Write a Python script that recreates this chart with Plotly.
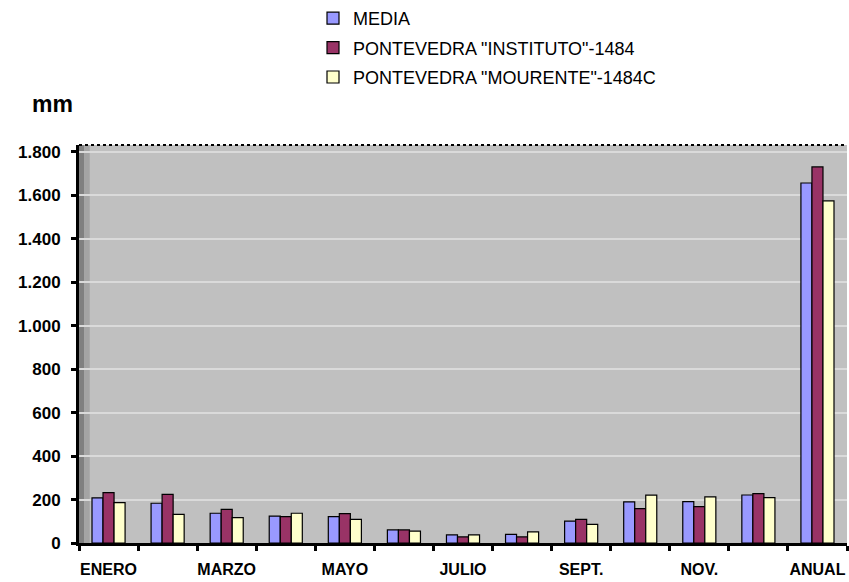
import plotly.graph_objects as go

categories = ["ENERO", "FEBRERO", "MARZO", "ABRIL", "MAYO", "JUNIO", "JULIO",
              "AGOSTO", "SEPT.", "OCT.", "NOV.", "DIC.", "ANUAL"]
shown_labels = ["ENERO", "MARZO", "MAYO", "JULIO", "SEPT.", "NOV.", "ANUAL"]

media = [208, 183, 137, 124, 121, 60, 37, 40, 101, 189, 190, 221, 1657]
instituto = [232, 224, 155, 121, 135, 60, 28, 28, 109, 158, 167, 227, 1731]
mourente = [186, 132, 117, 137, 109, 55, 37, 51, 86, 220, 212, 209, 1575]

series_names = ["MEDIA", 'PONTEVEDRA "INSTITUTO"-1484', 'PONTEVEDRA "MOURENTE"-1484C']
series_colors = ["#9999ff", "#993366", "#ffffcc"]
y_ticks = [0, 200, 400, 600, 800, 1000, 1200, 1400, 1600, 1800]

FONT = "Liberation Sans, Arial, sans-serif"

fig = go.Figure()
for name, vals, col in zip(series_names, [media, instituto, mourente], series_colors):
    fig.add_trace(go.Bar(
        x=categories, y=vals, name=name, legendgroup=name,
        marker=dict(color=col, line=dict(color="black", width=1.2)),
    ))

# boundary tick marks overlay axis
fig.add_trace(go.Scatter(x=[], y=[], xaxis="x2", showlegend=False, hoverinfo="skip"))

fig.update_layout(
    width=849, height=582,
    margin=dict(l=79, r=2, t=145, b=39, autoexpand=False),
    paper_bgcolor="white",
    plot_bgcolor="#c0c0c0",
    separators=",.",
    barmode="group",
    bargap=0.44,
    bargroupgap=0,
    font=dict(family=FONT, color="black"),
    legend=dict(
        xref="container", yref="container",
        x=313 / 849, y=1.0, xanchor="left", yanchor="top",
        font=dict(family=FONT, size=18, color="black"),
        bgcolor="rgba(0,0,0,0)", tracegroupgap=3,
        traceorder="grouped",
    ),
    xaxis=dict(
        type="category", categoryorder="array", categoryarray=categories,
        range=[-0.5, 12.5],
        tickvals=shown_labels, ticktext=shown_labels,
        ticks="", showgrid=False, zeroline=False,
        showline=False, tickangle=0,
        tickfont=dict(family=FONT, size=16, color="black", weight="bold"),
        ticklabelstandoff=15,
    ),
    xaxis2=dict(
        overlaying="x", anchor="y", side="bottom",
        range=[-0.5, 12.5],
        tickvals=[i - 0.5 for i in range(len(categories) + 1)],
        showticklabels=False, ticks="outside", ticklen=5, tickwidth=3,
        tickcolor="black", showline=True, linecolor="black", linewidth=3,
        showgrid=False, zeroline=False,
    ),
    yaxis=dict(
        range=[0, 1832], tickvals=y_ticks, tickformat=",d",
        ticks="outside", ticklen=5, tickwidth=3, tickcolor="black",
        showline=True, linecolor="black", linewidth=3,
        showgrid=True, gridcolor="#dadada", gridwidth=2,
        zeroline=False,
        tickfont=dict(family=FONT, size=17, color="black", weight="bold"),
        ticklabelstandoff=7,
    ),
    shapes=[
        dict(type="rect", xref="paper", yref="paper", x0=0, x1=0.007, y0=0, y1=1,
             fillcolor="#808080", line=dict(width=0), layer="below"),
        dict(type="rect", xref="paper", yref="paper", x0=0.007, x1=0.014, y0=0, y1=1,
             fillcolor="#a4a4a4", line=dict(width=0), layer="below"),
        dict(type="line", xref="paper", yref="paper", x0=0, x1=1, y0=1, y1=1,
             line=dict(color="black", width=2, dash="dot")),
    ],
    annotations=[
        dict(text="mm", xref="paper", yref="paper", x=-79 / 767, y=1 + (145 - 104) / 398,
             xanchor="left", yanchor="middle", xshift=30, showarrow=False,
             font=dict(family=FONT, size=23, color="black", weight="bold")),
    ],
)

fig.write_html("out.html")
